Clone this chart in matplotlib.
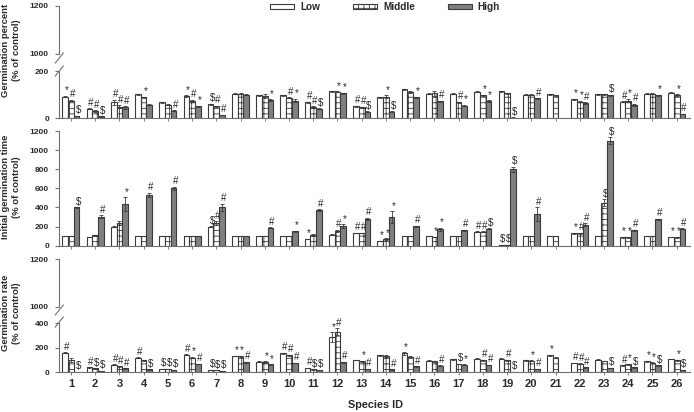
import numpy as np
import matplotlib.pyplot as plt
from matplotlib.patches import Patch
from matplotlib.lines import Line2D

plt.rcParams['font.family'] = ['Liberation Sans', 'DejaVu Sans']
plt.rcParams['hatch.linewidth'] = 0.6
plt.rcParams['hatch.color'] = '#3a3a3a'

nan = np.nan
species = list(range(1, 27))
groups = ['Low', 'Middle', 'High']

# Germination percent (% of control)
gp_low = [92, 40, 68, 102, 68, 94, 60, 104, 98, 97, 68, 114, 51, 89, 122, 104, 104, 112, 115, 100, 101, 80, 102, 71, 104, 109]
gp_mid = [75, 31, 49, 89, 57, 75, 51, 104, 94, 87, 47, 112, 47, 92, 111, 105, 68, 98, 105, 100, 98, 71, 102, 75, 104, 98]
gp_high = [10, 8, 46, 57, 31, 51, 14, 100, 77, 75, 40, 105, 27, 27, 89, 72, 54, 72, 3, 84, nan, 65, 98, 57, 98, 19]
gp_err_low = [3, 2, 10, 2, 2, 3, 2, 2, 2, 2, 2, 2, 2, 3, 3, 2, 2, 2, 2, 2, 2, 2, 2, 2, 2, 2]
gp_err_mid = [3, 3, 6, 2, 2, 4, 2, 2, 8, 3, 3, 2, 2, 6, 3, 10, 3, 2, 2, 2, 2, 3, 2, 8, 2, 3]
gp_err_high = [1, 1, 5, 2, 2, 3, 1, 2, 3, 8, 2, 2, 2, 2, 3, 3, 3, 4, 1, 2, nan, 4, 2, 4, 2, 1]
gp_sig_low = ['*', '#', '#', '', '', '*', '$', '', '', '', '#', '', '#', '', '', '', '', '', '', '', '', '*', '', '#', '', '']
gp_sig_mid = ['#', '#', '#', '*', '', '#', '#', '', '', '#', '#', '*', '#', '*', '', '', '#', '*', '', '', '', '*', '', '*', '', '*']
gp_sig_high = ['$', '$', '#', '', '#', '*', '#', '', '*', '*', '$', '*', '$', '$', '*', '#', '*', '*', '$', '#', '', '#', '$', '#', '*', '#']

# Initial germination time (% of control)
igt_low = [100, 95, 200, 100, 100, 100, 200, 100, 100, 100, 70, 116, 133, 49, 100, 100, 100, 147, 10, 100, 100, 130, 100, 88, 100, 91]
igt_mid = [100, 110, 235, 100, 100, 100, 235, 100, 100, 100, 110, 154, 133, 70, 100, 91, 100, 147, 10, 100, 100, 130, 450, 88, 100, 88]
igt_high = [400, 305, 435, 533, 600, 100, 400, 100, 186, 151, 372, 204, 284, 298, 204, 172, 161, 179, 800, 330, nan, 221, 1100, 161, 277, 179]
igt_err_low = [0, 0, 5, 0, 0, 0, 5, 0, 0, 0, 5, 5, 5, 5, 0, 0, 0, 5, 2, 0, 0, 5, 0, 5, 0, 5]
igt_err_mid = [0, 5, 20, 0, 0, 0, 20, 0, 0, 0, 10, 15, 5, 10, 0, 5, 0, 5, 2, 0, 0, 5, 35, 5, 0, 5]
igt_err_high = [5, 15, 70, 20, 15, 0, 40, 0, 5, 5, 10, 20, 10, 60, 5, 15, 5, 5, 25, 70, nan, 15, 35, 5, 5, 5]
igt_sig_low = ['', '', '', '', '', '', '$', '', '', '', '*', '', '#', '*', '', '', '', '#', '$', '', '', '*', '', '*', '', '*']
igt_sig_mid = ['', '', '', '', '', '', '#', '', '', '', '', '#', '#', '*', '', '*', '', '#', '$', '', '', '#', '$', '*', '', '*']
igt_sig_high = ['$', '#', '*', '#', '#', '', '#', '', '#', '*', '#', '*', '#', '*', '#', '*', '#', '$', '$', '#', '', '#', '$', '#', '#', '#']

# Germination rate (% of control)
gr_low = [160, 40, 61, 120, 29, 144, 19, 133, 88, 155, 35, 286, 101, 141, 155, 93, 107, 112, 112, 99, 141, 77, 104, 56, 91, 109]
gr_mid = [100, 32, 48, 99, 29, 120, 16, 131, 85, 139, 24, 331, 91, 131, 125, 91, 67, 99, 99, 96, 120, 69, 93, 64, 80, 99]
gr_high = [5, 13, 32, 24, 19, 67, 11, 83, 64, 75, 19, 83, 29, 24, 48, 53, 61, 59, 3, 29, nan, 40, 37, 40, 56, 19]
gr_err_low = [3, 2, 3, 3, 2, 4, 1, 4, 3, 4, 2, 40, 3, 4, 10, 4, 3, 3, 3, 3, 4, 3, 3, 3, 4, 3]
gr_err_mid = [15, 2, 3, 3, 2, 6, 1, 4, 5, 4, 2, 30, 3, 8, 4, 4, 3, 3, 3, 3, 4, 3, 3, 5, 4, 3]
gr_err_high = [1, 1, 3, 2, 1, 3, 1, 3, 3, 3, 1, 4, 2, 2, 3, 3, 3, 3, 1, 2, nan, 2, 2, 2, 3, 1]
gr_sig_low = ['#', '#', '#', '#', '$', '#', '$', '*', '', '#', '#', '*', '', '', '*', '', '', '', '', '', '*', '#', '', '#', '*', '']
gr_sig_mid = ['', '$', '#', '', '$', '*', '$', '*', '*', '#', '$', '#', '*', '', '', '', '$', '#', '#', '*', '', '#', '', '*', '*', '*']
gr_sig_high = ['$', '$', '#', '$', '$', '#', '$', '#', '*', '#', '$', '#', '#', '#', '#', '#', '*', '#', '$', '#', '', '#', '$', '$', '$', '$']

W, H = 694, 412
L, R = 59.3, 690
EDGE = '#3a3a3a'
TXT = '#2a2a2a'
AXC = '#707070'

fig = plt.figure(figsize=(W / 100, H / 100), dpi=100)


def make_ax(top, bottom):
    return fig.add_axes([L / W, 1 - bottom / H, (R - L) / W, (bottom - top) / H])


x = np.array(species, dtype=float)
bw = 0.235
offs = [-bw, 0, bw]
styles = [dict(facecolor='white'),
          dict(facecolor='white', hatch='+++'),
          dict(facecolor='#7f7f7f')]


def draw(ax, series, errs, sigs, ann=True):
    for k in range(3):
        v = np.array(series[k], float)
        e = np.array(errs[k], float)
        ax.bar(x + offs[k], v, bw, yerr=e, edgecolor=EDGE, linewidth=0.8,
               error_kw=dict(ecolor=EDGE, elinewidth=0.6, capsize=1.5, capthick=0.6),
               **styles[k])
        if ann:
            for xi, vi, ei, s in zip(x + offs[k], v, e, sigs[k]):
                if s:
                    ax.annotate(s, (xi, vi + ei), xytext=(1.2, 0.3), textcoords='offset points',
                                ha='center', va='bottom', fontsize=7, color=TXT)


def style(ax, ylim, yticks, bottom=True, xlabels=False):
    ax.set_xlim(0.52, 26.55)
    ax.set_ylim(*ylim)
    ax.set_yticks(yticks)
    for s in ['top', 'right']:
        ax.spines[s].set_visible(False)
    ax.spines['left'].set_color(AXC)
    ax.spines['bottom'].set_color(AXC)
    ax.spines['left'].set_linewidth(0.8)
    ax.spines['bottom'].set_linewidth(0.8)
    ax.tick_params(axis='y', length=3, width=0.8, color=AXC, pad=4.5, labelsize=6, labelcolor=TXT)
    for t in ax.get_yticklabels():
        t.set_fontweight('bold')
    if bottom:
        ax.set_xticks(species)
        ax.tick_params(axis='x', length=2, width=0.6, color=AXC, pad=3, labelsize=8, labelcolor=TXT)
        if xlabels:
            ax.set_xticklabels([str(s) for s in species], fontweight='bold')
        else:
            ax.set_xticklabels([])
    else:
        ax.spines['bottom'].set_visible(False)
        ax.set_xticks([])


def slash(xc, yc):
    fig.add_artist(Line2D([(xc - 4) / W, (xc + 4) / W], [1 - (yc + 5) / H, 1 - (yc - 5) / H],
                          color=AXC, lw=0.8))


# panel 1: germination percent (broken axis)
gp = [gp_low, gp_mid, gp_high]
gpe = [gp_err_low, gp_err_mid, gp_err_high]
gps = [gp_sig_low, gp_sig_mid, gp_sig_high]
a1h = make_ax(6, 54)
draw(a1h, gp, gpe, gps, ann=False)
style(a1h, (1000, 1200), [1000, 1200], bottom=False)
a1l = make_ax(71, 118.3)
draw(a1l, gp, gpe, gps)
style(a1l, (0, 200), [0, 200])
slash(L, 58)
slash(L, 71)

# panel 2: initial germination time
a2 = make_ax(131, 245.7)
draw(a2, [igt_low, igt_mid, igt_high], [igt_err_low, igt_err_mid, igt_err_high],
     [igt_sig_low, igt_sig_mid, igt_sig_high])
style(a2, (0, 1200), [0, 200, 400, 600, 800, 1000, 1200])

# panel 3: germination rate (broken axis)
gr = [gr_low, gr_mid, gr_high]
gre = [gr_err_low, gr_err_mid, gr_err_high]
grs = [gr_sig_low, gr_sig_mid, gr_sig_high]
a3h = make_ax(259, 306.7)
draw(a3h, gr, gre, grs, ann=False)
style(a3h, (1000, 1200), [1000, 1200], bottom=False)
a3l = make_ax(323.3, 372.3)
draw(a3l, gr, gre, grs)
style(a3l, (0, 400), [0, 200, 400], xlabels=True)
slash(L, 310)
slash(L, 322)

# axis labels
lab = dict(rotation=90, ha='center', va='center', fontsize=6.8, fontweight='bold',
           color=TXT, linespacing=1.15, multialignment='center')
fig.text(11 / W, 1 - 50 / H, 'Germination percent\n(% of control)', **lab)
fig.text(11 / W, 1 - 187 / H, 'Initial germination time\n(% of control)', **lab)
fig.text(11 / W, 1 - 313 / H, 'Germination rate\n(% of control)', **lab)
fig.text(376 / W, 1 - 405 / H, 'Species ID', ha='center', va='center', fontsize=7.8,
         fontweight='bold', color=TXT)

# legend
handles = [Patch(facecolor=styles[k]['facecolor'], hatch=styles[k].get('hatch'),
                 edgecolor=EDGE, linewidth=0.8, label=groups[k]) for k in range(3)]
fig.legend(handles=handles, loc='center', bbox_to_anchor=(385 / W, 1 - 7 / H), ncol=3,
           frameon=False, prop=dict(size=7.2, weight='bold'), handlelength=2.4,
           handleheight=0.5, handletextpad=0.6, columnspacing=3.3, borderpad=0)
for t in fig.legends[0].get_texts():
    t.set_color(TXT)

fig.savefig('out.png', dpi=100)
